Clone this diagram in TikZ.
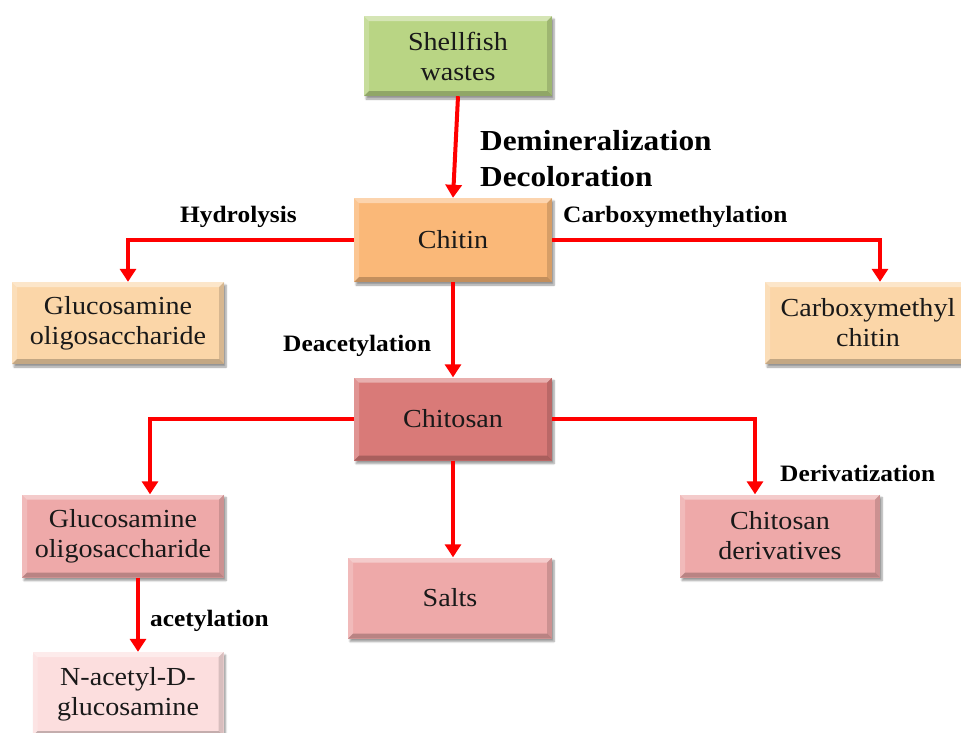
\documentclass[tikz,border=0pt]{standalone}
\usepackage{fontspec}
\setmainfont{Liberation Serif}[FakeStretch=1.08]
\usetikzlibrary{arrows.meta,shadows.blur,calc}

\definecolor{shellgreen}{RGB}{185,213,132}
\definecolor{chitinorange}{RGB}{250,184,120}
\definecolor{peach}{RGB}{251,214,168}
\definecolor{chitosanred}{RGB}{217,122,120}
\definecolor{rosebox}{RGB}{238,169,169}
\definecolor{palepink}{RGB}{252,222,222}
\definecolor{arrowred}{RGB}{255,0,0}

\tikzset{
  bevel/.style={path picture={
    \fill[white,opacity=.40] (path picture bounding box.north west) -- (path picture bounding box.north east)
      -- ([xshift=-5pt,yshift=-5pt]path picture bounding box.north east) -- ([xshift=5pt,yshift=-5pt]path picture bounding box.north west) -- cycle;
    \fill[white,opacity=.20] (path picture bounding box.north west) -- (path picture bounding box.south west)
      -- ([xshift=5pt,yshift=5pt]path picture bounding box.south west) -- ([xshift=5pt,yshift=-5pt]path picture bounding box.north west) -- cycle;
    \fill[black,opacity=.22] (path picture bounding box.south west) -- (path picture bounding box.south east)
      -- ([xshift=-5pt,yshift=5pt]path picture bounding box.south east) -- ([xshift=5pt,yshift=5pt]path picture bounding box.south west) -- cycle;
    \fill[black,opacity=.14] (path picture bounding box.north east) -- (path picture bounding box.south east)
      -- ([xshift=-5pt,yshift=5pt]path picture bounding box.south east) -- ([xshift=-5pt,yshift=-5pt]path picture bounding box.north east) -- cycle;
  }},
  box/.style={rectangle, bevel, align=center, inner sep=0pt,
    font=\fontsize{26}{30}\selectfont, text=black!90,
    blur shadow={shadow xshift=2pt, shadow yshift=-3pt, shadow blur steps=6, shadow opacity=40}},
  lbl/.style={anchor=west, inner sep=0pt, font=\bfseries\fontsize{23.5}{26}\selectfont},
  biglbl/.style={anchor=west, inner sep=0pt, align=left, font=\bfseries\fontsize{29}{36}\selectfont},
  arr/.style={draw=arrowred, line width=4pt, -{Triangle[width=16pt,length=13pt]}},
}

\begin{document}
\begin{tikzpicture}[x=1pt, y=-1pt]
  \useasboundingbox (0,0) rectangle (961,732);

  % boxes
  \node[box, fill=shellgreen, minimum width=188pt, minimum height=80pt] (shell) at (458,56) {Shellfish\\wastes};
  \node[box, fill=chitinorange, minimum width=198pt, minimum height=84pt] (chitin) at (453,240) {Chitin};
  \node[box, fill=peach, minimum width=212pt, minimum height=82pt] (gluA) at (118,323) {Glucosamine\\oligosaccharide};
  \node[box, fill=peach, minimum width=206pt, minimum height=82pt] (carb) at (868,323) {Carboxymethyl\\chitin};
  \node[box, fill=chitosanred, minimum width=198pt, minimum height=83pt] (chitosan) at (453,419) {Chitosan};
  \node[box, fill=rosebox, minimum width=202pt, minimum height=83pt] (gluB) at (123,536) {Glucosamine\\oligosaccharide};
  \node[box, fill=rosebox, minimum width=204pt, minimum height=81pt] (salts) at (450,598) {Salts};
  \node[box, fill=rosebox, minimum width=200pt, minimum height=83pt] (deriv) at (780,536) {Chitosan\\derivatives};
  \node[box, fill=palepink, minimum width=191pt, minimum height=84pt] (nag) at (128,694) {N-acetyl-D-\\glucosamine};

  % process labels
  \node[biglbl] (demin) at (480,159) {Demineralization\\Decoloration};
  \node[lbl] (hyd) at (180,217) {Hydrolysis};
  \node[lbl] (cmeth) at (563,217) {Carboxymethylation};
  \node[lbl] (deac) at (283,346) {Deacetylation};
  \node[lbl] (deriz) at (780,473) {Derivatization};
  \node[lbl] (acet) at (150,621) {acetylation};

  % connectors
  \draw[arr] (shell.south) -- (chitin.north);
  \draw[arr] (chitin.west) -| ([xshift=10pt]gluA.north);
  \draw[arr] (chitin.east) -| ([xshift=12pt]carb.north);
  \draw[arr] (chitin.south) -- (chitosan.north);
  \draw[arr] (chitosan.west) -| ([xshift=27pt]gluB.north);
  \draw[arr] (chitosan.south) -- (chitosan.south |- salts.north);
  \draw[arr] (chitosan.east) -| ([xshift=-25pt]deriv.north);
  \coordinate (gluBout) at ([xshift=15pt]gluB.south);
  \draw[arr] (gluBout) -- (gluBout |- nag.north);
\end{tikzpicture}
\end{document}
